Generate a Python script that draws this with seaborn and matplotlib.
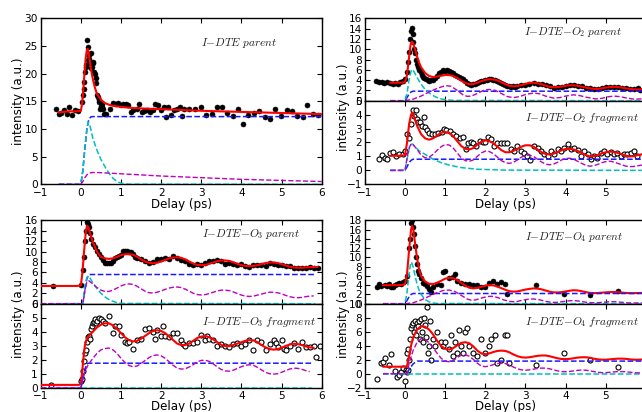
import matplotlib
matplotlib.use("Agg")
import matplotlib.pyplot as plt
import seaborn as sns
import numpy as np

# ---------------- data ----------------
xlim_all = (-1, 6)

# I-DTE parent
dte_pts = [(-0.62,13.55),(-0.55,12.65),(-0.49,12.95),(-0.42,13.4),(-0.35,12.8),(-0.29,13.9),(-0.21,12.5),(-0.14,13.4),(-0.08,13.25),
           (0.02,14.9),(0.05,16.1),(0.07,17.3),(0.08,18.5),(0.1,20.4),(0.12,21.2),(0.13,21.6),(0.16,26.1),(0.17,22.5),(0.19,24.9),(0.2,23.4),
           (0.21,22.6),(0.23,21.9),(0.25,23.7),(0.26,21.0),(0.28,21.3),(0.3,22.2),(0.31,21.9),(0.33,20.4),(0.35,19.9),(0.37,19.2),(0.39,18.3),
           (0.41,16.1),(0.43,15.8),(0.45,15.2),(0.46,14.9),(0.48,13.7),(0.5,14.2),(0.52,14.6),(0.53,13.9),(0.55,13.6),(0.58,12.8),(0.63,12.65),
           (0.73,13.6),(0.79,14.8),(0.88,14.6),(0.93,14.8),(1.0,14.3),(1.06,14.6),(1.13,14.6),(1.18,14.3),(1.25,13.1),(1.31,13.4),(1.39,13.7),
           (1.46,14.6),(1.52,13.1),(1.58,13.25),(1.66,13.4),(1.72,13.1),(1.79,13.4),(1.85,14.6),(1.93,14.3),(1.99,13.4),(2.06,13.9),(2.11,12.2),
           (2.18,14.0),(2.25,12.5),(2.31,13.4),(2.39,13.7),(2.46,14.0),(2.51,12.3),(2.58,13.7),(2.7,13.7),(2.85,13.7),(2.99,13.9),(3.12,12.5),
           (3.26,12.8),(3.39,13.9),(3.51,13.9),(3.65,12.95),(3.78,12.35),(3.91,13.55),(4.05,10.9),(4.17,12.5),(4.32,12.95),(4.45,13.25),
           (4.59,12.1),(4.71,11.9),(4.84,13.7),(4.98,12.35),(5.13,13.4),(5.25,13.3),(5.38,12.35),(5.53,12.2),(5.64,14.3),(5.78,12.8),(5.92,12.5)]
dte_fit = [(-0.55,13.0),(-0.3,13.2),(-0.1,13.2),(0.0,13.3),(0.03,14.5),(0.06,17.0),(0.09,20.0),(0.12,22.8),(0.15,24.3),(0.17,24.5),
           (0.19,24.0),(0.22,22.5),(0.26,20.5),(0.3,19.0),(0.35,17.5),(0.4,16.4),(0.5,15.3),(0.6,14.7),(0.7,14.4),(0.8,14.2),(1.0,14.0),
           (1.3,13.8),(1.6,13.7),(2.0,13.6),(2.5,13.45),(3.0,13.3),(3.5,13.2),(4.0,13.1),(4.5,13.0),(5.0,12.9),(5.5,12.8),(6.0,12.7)]
dte_blue = [(-0.55,0),(0.0,0),(0.05,2.5),(0.1,6.5),(0.15,10.0),(0.2,11.8),(0.25,12.2),(0.3,12.25),(6.0,12.25)]
dte_cyan = [(-0.55,0),(0.0,0),(0.05,2.5),(0.1,6.5),(0.15,10.0),(0.18,11.3),(0.22,10.8),(0.3,8.3),(0.4,6.2),(0.5,4.5),(0.6,3.2),
            (0.7,2.0),(0.8,1.1),(0.9,0.5),(1.0,0.2),(1.2,0.03),(6.0,0)]
dte_mag = [(-0.55,0),(0.0,0),(0.05,0.5),(0.1,1.2),(0.15,1.7),(0.2,2.0),(0.25,2.1),(0.35,2.15),(0.5,2.1),(1.0,1.9),(1.5,1.7),(2.0,1.5),
           (2.5,1.35),(3.0,1.2),(3.5,1.05),(4.0,0.9),(4.5,0.8),(5.0,0.7),(5.5,0.6),(6.0,0.5)]

# I-DTE-O2 parent
o2p_pts = [(-0.72,3.8),(-0.65,3.7),(-0.58,3.7),(-0.52,3.5),(-0.45,3.6),(-0.38,3.4),(-0.3,3.3),(-0.25,3.5),(-0.18,3.2),(-0.12,3.6),
           (-0.05,3.8),(0.0,4.2),(0.04,5.5),(0.07,7.5),(0.1,9.5),(0.13,12.0),(0.15,13.5),(0.17,14.2),(0.19,13.0),(0.21,11.5),(0.23,10.0),
           (0.25,9.2),(0.27,8.0),(0.3,7.2),(0.33,6.5),(0.36,6.0),(0.39,5.5),(0.42,5.0),(0.45,4.6),(0.48,4.4),(0.52,4.2),(0.56,4.0),(0.6,3.9),
           (0.65,4.0),(0.7,4.1),(0.75,4.4),(0.8,4.8),(0.85,5.3),(0.9,5.6),(0.95,5.9),(1.0,5.8),(1.05,5.9),(1.1,5.7),(1.15,5.6),(1.2,5.3),
           (1.25,5.0),(1.3,4.8),(1.35,4.6),(1.4,4.4),(1.45,4.2),(1.5,3.9),(1.55,3.5),(1.6,3.2),(1.65,3.1),(1.7,3.2),(1.75,3.3),(1.8,3.5),
           (1.85,3.6),(1.9,3.8),(1.95,3.9),(2.0,4.1),(2.05,4.0),(2.1,4.3),(2.15,4.2),(2.2,4.1),(2.25,4.0),(2.3,3.8),(2.35,3.6),(2.4,3.4),
           (2.45,3.2),(2.5,3.1),(2.55,2.9),(2.6,2.8),(2.65,2.7),(2.7,2.8),(2.75,2.7),(2.8,2.9),(2.9,3.0),(3.0,3.1),(3.1,3.3),(3.2,3.4),
           (3.3,3.3),(3.4,3.2),(3.5,3.0),(3.6,2.8),(3.7,2.5),(3.8,2.6),(3.9,2.7),(4.0,2.9),(4.1,3.0),(4.2,3.1),(4.3,2.9),(4.4,2.8),(4.5,2.5),
           (4.6,2.4),(4.7,2.2),(4.8,2.3),(4.9,2.4),(5.0,2.6),(5.1,2.7),(5.2,2.6),(5.3,2.6),(5.4,2.5),(5.5,2.4),(5.6,2.3),(5.7,2.2),(5.8,2.4),(5.85,2.1)]
o2p_fit = [(-0.37,3.5),(-0.1,3.5),(0.0,3.6),(0.05,5.0),(0.1,8.5),(0.14,11.0),(0.17,11.5),(0.2,11.2),(0.25,10.0),(0.3,8.6),(0.35,7.4),
           (0.4,6.5),(0.5,5.4),(0.6,4.8),(0.7,4.6),(0.8,4.7),(0.9,4.85),(1.0,5.0),(1.1,5.0),(1.2,4.8),(1.3,4.4),(1.4,3.9),(1.5,3.45),
           (1.6,3.2),(1.7,3.25),(1.8,3.5),(1.9,3.8),(2.0,4.05),(2.1,4.2),(2.2,4.15),(2.3,3.95),(2.4,3.6),(2.5,3.2),(2.6,2.9),(2.7,2.8),
           (2.8,2.85),(2.9,3.05),(3.0,3.25),(3.1,3.45),(3.2,3.5),(3.3,3.4),(3.4,3.2),(3.5,2.95),(3.6,2.7),(3.7,2.6),(3.8,2.65),(3.9,2.75),
           (4.0,2.9),(4.1,3.0),(4.2,3.0),(4.3,2.9),(4.4,2.75),(4.5,2.55),(4.6,2.4),(4.7,2.3),(4.8,2.3),(4.9,2.4),(5.0,2.55),(5.1,2.65),
           (5.2,2.7),(5.3,2.65),(5.4,2.55),(5.5,2.4),(5.6,2.3),(5.7,2.2),(5.8,2.2),(5.9,2.25)]
o2p_blue = [(-0.37,0),(0.0,0),(0.05,0.6),(0.1,1.3),(0.15,1.7),(0.2,1.85),(5.9,1.85)]
o2p_cyan = [(-0.37,0),(0.0,0),(0.05,1.5),(0.1,4.0),(0.15,5.8),(0.18,6.1),(0.22,5.7),(0.3,4.5),(0.4,3.2),(0.5,2.2),(0.6,1.5),(0.7,1.0),
            (0.8,0.6),(0.9,0.35),(1.0,0.2),(1.2,0.05),(5.9,0)]
o2p_mag = [(-0.37,0),(0.0,0),(0.2,0.3),(0.4,0.9),(0.6,1.7),(0.8,2.4),(0.95,2.8),(1.05,2.9),(1.15,2.8),(1.3,2.0),(1.45,1.1),(1.55,0.85),
           (1.65,0.9),(1.8,1.4),(1.95,2.0),(2.1,2.2),(2.25,2.0),(2.4,1.4),(2.55,0.8),(2.7,0.6),(2.85,0.8),(3.0,1.2),(3.2,1.5),(3.35,1.35),
           (3.5,0.9),(3.7,0.5),(3.85,0.6),(4.0,0.9),(4.2,1.15),(4.35,1.0),(4.5,0.7),(4.75,0.35),(4.9,0.45),(5.05,0.75),(5.2,0.9),
           (5.35,0.8),(5.5,0.55),(5.7,0.3),(5.9,0.35)]

# I-DTE-O2 fragment
o2f_pts = [(-0.66,0.82),(-0.58,1.07),(-0.51,0.9),(-0.45,0.82),(-0.37,1.26),(-0.31,1.3),(-0.22,1.0),(-0.14,1.2),(-0.06,1.2),(0.0,1.38),
           (0.06,2.6),(0.1,2.3),(0.14,3.3),(0.21,4.3),(0.27,4.3),(0.23,3.9),(0.29,3.7),(0.33,3.45),(0.37,3.5),(0.41,3.2),(0.47,3.85),
           (0.5,3.1),(0.54,2.9),(0.6,2.7),(0.66,2.6),(0.74,2.6),(0.83,2.67),(0.91,2.76),(0.98,2.96),(1.03,2.9),(1.12,2.84),(1.2,2.6),
           (1.28,2.47),(1.36,2.3),(1.45,2.4),(1.51,1.5),(1.58,1.94),(1.64,2.0),(1.69,1.94),(1.78,1.75),(1.86,2.13),(1.94,2.04),(2.0,2.0),
           (2.07,2.42),(2.15,2.23),(2.21,1.75),(2.3,1.94),(2.38,1.94),(2.46,1.94),(2.55,1.94),(2.63,1.5),(2.71,1.38),(2.79,1.75),
           (2.88,1.38),(2.96,1.26),(3.04,1.0),(3.12,0.73),(3.22,1.75),(3.31,1.62),(3.39,1.38),(3.47,1.2),(3.55,1.0),(3.64,1.38),
           (3.72,1.2),(3.8,1.5),(3.88,1.38),(3.97,1.62),(4.05,1.87),(4.13,1.5),(4.21,1.62),(4.3,1.45),(4.38,1.0),(4.46,1.38),(4.55,1.2),
           (4.63,0.78),(4.71,1.0),(4.79,0.9),(4.88,1.26),(4.96,1.38),(5.04,1.2),(5.12,1.3),(5.2,1.14),(5.29,1.26),(5.37,1.0),(5.45,1.14),
           (5.54,1.2),(5.62,1.26),(5.7,1.38),(5.79,1.0)]
o2f_fit = [(-0.37,1.05),(-0.1,1.05),(0.0,1.1),(0.05,2.0),(0.1,3.3),(0.15,4.0),(0.18,4.15),(0.22,3.9),(0.3,3.2),(0.4,2.6),(0.5,2.3),
           (0.6,2.2),(0.7,2.3),(0.8,2.5),(0.9,2.7),(1.0,2.75),(1.1,2.7),(1.2,2.45),(1.3,2.1),(1.4,1.75),(1.5,1.55),(1.6,1.5),(1.7,1.6),
           (1.8,1.85),(1.9,2.05),(2.0,2.15),(2.1,2.1),(2.2,1.95),(2.3,1.7),(2.4,1.45),(2.5,1.3),(2.6,1.3),(2.7,1.4),(2.8,1.55),(2.9,1.7),
           (3.0,1.8),(3.1,1.8),(3.2,1.7),(3.3,1.5),(3.4,1.3),(3.5,1.18),(3.6,1.14),(3.7,1.2),(3.8,1.3),(3.9,1.45),(4.0,1.53),(4.1,1.55),
           (4.2,1.5),(4.3,1.4),(4.4,1.25),(4.5,1.1),(4.6,1.0),(4.7,1.02),(4.8,1.1),(4.9,1.22),(5.0,1.3),(5.1,1.35),(5.2,1.32),(5.3,1.25),
           (5.4,1.15),(5.5,1.05),(5.6,1.0),(5.7,1.02),(5.8,1.1),(5.9,1.15)]
o2f_blue = [(-0.37,0),(0.0,0),(0.05,0.25),(0.1,0.55),(0.15,0.72),(0.2,0.8),(5.9,0.8)]
o2f_cyan = [(-0.37,0),(0.0,0),(0.05,0.8),(0.1,1.5),(0.15,1.85),(0.18,1.9),(0.25,1.7),(0.35,1.4),(0.5,1.15),(0.7,0.8),(0.9,0.55),
            (1.1,0.38),(1.4,0.2),(1.8,0.08),(2.5,0.02),(5.9,0)]
o2f_mag = [(-0.37,0),(0.0,0),(0.05,0.9),(0.1,1.6),(0.15,1.9),(0.2,1.85),(0.3,1.5),(0.4,1.1),(0.5,0.9),(0.6,0.95),(0.7,1.15),(0.8,1.45),
           (0.9,1.7),(1.0,1.85),(1.1,1.82),(1.2,1.6),(1.3,1.25),(1.4,0.9),(1.5,0.7),(1.6,0.65),(1.7,0.75),(1.8,1.0),(1.9,1.25),(2.0,1.38),
           (2.1,1.35),(2.2,1.2),(2.3,0.95),(2.4,0.7),(2.5,0.55),(2.6,0.5),(2.7,0.58),(2.8,0.75),(2.9,0.95),(3.0,1.08),(3.1,1.1),(3.2,1.0),
           (3.3,0.8),(3.4,0.6),(3.5,0.45),(3.6,0.4),(3.7,0.45),(3.8,0.58),(3.9,0.75),(4.0,0.85),(4.1,0.87),(4.2,0.8),(4.3,0.65),(4.4,0.5),
           (4.5,0.37),(4.6,0.3),(4.7,0.33),(4.8,0.43),(4.9,0.55),(5.0,0.63),(5.1,0.66),(5.2,0.6),(5.3,0.5),(5.4,0.4),(5.5,0.3),(5.6,0.27),
           (5.7,0.28),(5.8,0.33),(5.9,0.38)]

# I-DTE-O3 parent
o3p_pts = [(-0.7,3.4),(0.0,3.5),(0.05,6.5),(0.08,9.0),(0.1,12.0),(0.12,14.0),(0.15,15.7),(0.17,15.3),(0.2,14.8),(0.22,13.5),(0.25,12.5),
           (0.3,11.5),(0.35,10.8),(0.4,10.2),(0.45,9.6),(0.5,9.0),(0.55,8.3),(0.6,7.9),(0.65,7.8),(0.7,7.8),(0.75,7.8),(0.8,8.2),(0.85,8.8),
           (0.9,9.0),(0.95,9.2),(1.0,9.3),(1.05,10.2),(1.1,10.1),(1.15,10.1),(1.2,10.0),(1.25,9.9),(1.3,9.6),(1.35,9.0),(1.4,8.8),(1.5,8.6),
           (1.6,8.2),(1.7,7.9),(1.8,8.0),(1.9,8.5),(2.0,8.5),(2.1,8.7),(2.2,8.6),(2.3,9.1),(2.4,8.8),(2.5,8.3),(2.6,8.2),(2.7,7.6),(2.8,7.4),
           (2.9,7.6),(3.0,7.4),(3.1,7.9),(3.2,8.1),(3.3,8.2),(3.4,8.4),(3.5,8.1),(3.6,7.7),(3.7,7.9),(3.8,7.6),(3.9,7.5),(4.0,7.7),(4.1,7.3),
           (4.2,7.1),(4.3,7.5),(4.4,7.4),(4.5,7.4),(4.6,7.3),(4.7,7.8),(4.8,7.6),(4.9,7.4),(5.0,7.5),(5.1,7.2),(5.2,7.3),(5.3,6.9),(5.4,6.8),
           (5.5,6.9),(5.6,6.8),(5.7,7.1),(5.8,6.9),(5.9,6.8)]
o3p_fit = [(-1.0,3.4),(-0.1,3.4),(0.0,3.5),(0.04,6.0),(0.08,10.0),(0.12,13.5),(0.15,14.9),(0.18,14.8),(0.22,13.8),(0.3,11.8),(0.4,10.0),
           (0.5,9.0),(0.6,8.7),(0.7,8.6),(0.8,8.7),(0.9,9.0),(1.0,9.3),(1.1,9.5),(1.2,9.5),(1.3,9.4),(1.4,9.0),(1.5,8.5),(1.6,8.1),(1.7,7.85),
           (1.8,7.75),(1.9,7.85),(2.0,8.1),(2.1,8.4),(2.2,8.7),(2.3,8.85),(2.4,8.9),(2.5,8.8),(2.6,8.5),(2.7,8.1),(2.8,7.7),(2.9,7.45),
           (3.0,7.4),(3.1,7.45),(3.2,7.65),(3.3,7.9),(3.4,8.15),(3.5,8.3),(3.6,8.3),(3.7,8.2),(3.8,7.95),(3.9,7.65),(4.0,7.4),(4.1,7.25),
           (4.2,7.2),(4.3,7.25),(4.4,7.4),(4.5,7.6),(4.6,7.8),(4.7,7.9),(4.8,7.9),(4.9,7.8),(5.0,7.6),(5.1,7.35),(5.2,7.1),(5.3,6.95),
           (5.4,6.9),(5.5,6.9),(5.6,6.95),(5.7,7.0),(5.8,7.05),(5.9,7.05)]
o3p_blue = [(-1.0,0),(0.05,0),(0.1,2.5),(0.15,4.8),(0.2,5.6),(5.85,5.6)]
o3p_cyan = [(-1.0,0),(0.05,0),(0.1,3.5),(0.15,5.0),(0.18,5.3),(0.22,5.0),(0.3,4.0),(0.4,2.9),(0.5,2.0),(0.6,1.3),(0.7,0.8),(0.8,0.45),
            (0.9,0.2),(1.0,0.05),(5.85,0)]
o3p_mag = [(-1.0,0),(0.05,0),(0.1,2.5),(0.15,4.2),(0.2,4.4),(0.3,3.8),(0.4,3.1),(0.5,2.6),(0.6,2.35),(0.7,2.35),(0.8,2.6),(0.9,3.0),
           (1.0,3.4),(1.1,3.7),(1.2,3.8),(1.3,3.7),(1.4,3.35),(1.5,2.85),(1.6,2.4),(1.7,2.1),(1.8,2.05),(1.9,2.2),(2.0,2.45),(2.1,2.75),
           (2.2,3.0),(2.3,3.15),(2.4,3.2),(2.5,3.1),(2.6,2.8),(2.7,2.4),(2.8,2.0),(2.9,1.75),(3.0,1.67),(3.1,1.75),(3.2,1.95),(3.3,2.2),
           (3.4,2.45),(3.5,2.6),(3.6,2.6),(3.7,2.5),(3.8,2.25),(3.9,1.95),(4.0,1.65),(4.1,1.45),(4.2,1.4),(4.3,1.45),(4.4,1.65),(4.5,1.85),
           (4.6,2.05),(4.7,2.2),(4.8,2.2),(4.9,2.1),(5.0,1.9),(5.1,1.6),(5.2,1.35),(5.3,1.2),(5.4,1.15),(5.5,1.2),(5.6,1.35),(5.7,1.45),
           (5.8,1.5)]

# I-DTE-O3 fragment
o3f_pts = [(-0.75,0.22),(0.0,0.5),(0.02,0.6),(0.05,1.2),(0.08,1.9),(0.1,2.5),(0.12,2.7),(0.15,3.3),(0.18,3.6),(0.2,3.7),(0.22,3.5),
           (0.25,4.2),(0.28,4.4),(0.3,4.6),(0.33,4.7),(0.35,4.9),(0.38,4.6),(0.4,4.8),(0.45,5.0),(0.5,4.9),(0.55,4.8),(0.6,4.6),(0.7,5.1),
           (0.8,3.9),(0.85,4.4),(0.95,4.4),(1.0,3.8),(1.1,3.3),(1.15,3.2),(1.2,3.3),(1.3,2.8),(1.4,3.4),(1.5,3.5),(1.6,4.2),(1.7,4.3),
           (1.8,4.0),(1.85,3.5),(1.9,4.1),(2.0,3.7),(2.05,4.4),(2.1,3.7),(2.2,3.6),(2.3,3.9),(2.4,3.9),(2.5,3.4),(2.55,3.1),(2.6,3.0),
           (2.7,3.2),(2.8,3.2),(2.9,3.3),(3.0,3.8),(3.1,3.4),(3.15,3.7),(3.2,3.5),(3.3,3.4),(3.4,3.0),(3.5,3.1),(3.6,3.0),(3.7,2.9),
           (3.8,3.1),(3.9,3.2),(4.0,3.0),(4.1,3.1),(4.2,3.4),(4.3,2.7),(4.4,3.4),(4.5,3.3),(4.6,2.7),(4.7,3.1),(4.8,3.4),(4.85,3.2),
           (4.9,2.9),(5.0,3.4),(5.05,2.8),(5.1,2.7),(5.2,3.0),(5.3,3.2),(5.4,2.8),(5.5,3.3),(5.6,2.9),(5.7,2.9),(5.8,3.0),(5.85,2.2),(5.95,3.0)]
o3f_fit = [(-1.0,0.2),(-0.05,0.2),(0.0,0.3),(0.03,1.0),(0.06,2.0),(0.1,3.0),(0.15,3.5),(0.2,3.7),(0.3,4.0),(0.4,4.3),(0.5,4.5),(0.6,4.6),
           (0.7,4.6),(0.8,4.45),(0.9,4.2),(1.0,3.9),(1.1,3.6),(1.2,3.4),(1.3,3.3),(1.4,3.35),(1.5,3.5),(1.6,3.7),(1.7,3.9),(1.8,4.05),
           (1.9,4.1),(2.0,4.05),(2.1,3.9),(2.2,3.65),(2.3,3.4),(2.4,3.15),(2.5,3.05),(2.6,3.05),(2.7,3.15),(2.8,3.35),(2.9,3.55),(3.0,3.65),
           (3.1,3.7),(3.2,3.6),(3.3,3.45),(3.4,3.25),(3.5,3.05),(3.6,2.97),(3.7,2.97),(3.8,3.05),(3.9,3.15),(4.0,3.25),(4.1,3.35),(4.2,3.4),
           (4.3,3.38),(4.4,3.25),(4.5,3.05),(4.6,2.88),(4.7,2.76),(4.8,2.72),(4.9,2.75),(5.0,2.85),(5.1,2.98),(5.2,3.08),(5.3,3.14),
           (5.4,3.12),(5.5,3.05),(5.6,2.95),(5.7,2.88),(5.8,2.85)]
o3f_blue = [(-1.0,0),(0.0,0),(0.05,0.6),(0.1,1.3),(0.15,1.7),(0.2,1.75),(5.75,1.75)]
o3f_cyan = [(-1.0,0),(5.75,0)]
o3f_mag = [(-1.0,0),(0.0,0),(0.05,0.6),(0.1,1.2),(0.2,1.7),(0.3,2.1),(0.4,2.45),(0.5,2.7),(0.6,2.8),(0.7,2.83),(0.8,2.7),(0.9,2.45),
           (1.0,2.1),(1.1,1.8),(1.2,1.58),(1.3,1.5),(1.4,1.55),(1.5,1.72),(1.6,1.95),(1.7,2.15),(1.8,2.3),(1.9,2.34),(2.0,2.28),(2.1,2.1),
           (2.2,1.85),(2.3,1.6),(2.4,1.4),(2.5,1.33),(2.6,1.35),(2.7,1.48),(2.8,1.65),(2.9,1.85),(3.0,1.95),(3.1,1.96),(3.2,1.88),(3.3,1.7),
           (3.4,1.48),(3.5,1.3),(3.6,1.2),(3.7,1.18),(3.8,1.25),(3.9,1.38),(4.0,1.5),(4.1,1.6),(4.2,1.64),(4.3,1.6),(4.4,1.45),(4.5,1.27),
           (4.6,1.1),(4.7,1.0),(4.8,0.97),(4.9,1.0),(5.0,1.1),(5.1,1.22),(5.2,1.33),(5.3,1.4),(5.4,1.38),(5.5,1.32),(5.6,1.22),(5.7,1.15)]

# I-DTE-O4 parent
o4p_pts = [(-0.7,3.6),(-0.65,4.2),(-0.6,3.9),(-0.5,4.0),(-0.45,3.8),(-0.4,4.3),(-0.35,3.6),(-0.3,3.7),(-0.25,4.0),(-0.2,4.2),(-0.15,4.5),
           (-0.1,4.3),(-0.05,4.6),(0.0,5.0),(0.05,6.0),(0.1,12.0),(0.12,14.0),(0.15,17.5),(0.17,18.0),(0.2,16.5),(0.22,15.0),(0.25,12.5),
           (0.28,10.0),(0.3,8.5),(0.33,7.0),(0.35,6.5),(0.4,5.5),(0.45,4.5),(0.5,4.3),(0.55,3.8),(0.6,3.2),(0.65,2.5),(0.7,3.5),(0.8,4.3),
           (0.9,4.0),(0.95,6.8),(1.0,7.0),(1.1,5.5),(1.2,5.8),(1.25,6.5),(1.3,5.0),(1.4,4.5),(1.5,4.3),(1.6,4.2),(1.7,4.0),(1.8,4.0),
           (1.9,3.6),(2.0,3.5),(2.1,4.5),(2.2,5.0),(2.3,4.3),(2.4,4.7),(2.5,4.3),(2.55,2.0),(3.25,4.0),(3.95,2.0),(4.6,1.8),(5.3,2.7)]
o4p_fit = [(-0.55,4.0),(-0.1,4.0),(0.0,4.2),(0.05,6.5),(0.1,11.5),(0.15,16.0),(0.18,16.8),(0.21,15.8),(0.25,13.0),(0.3,9.8),(0.35,7.4),
           (0.4,6.0),(0.5,4.8),(0.6,4.3),(0.7,4.25),(0.8,4.5),(0.9,4.95),(1.0,5.4),(1.1,5.6),(1.2,5.5),(1.3,5.1),(1.4,4.5),(1.5,3.9),
           (1.6,3.45),(1.7,3.3),(1.8,3.4),(1.9,3.65),(2.0,3.9),(2.1,4.0),(2.2,3.95),(2.3,3.7),(2.4,3.35),(2.5,3.0),(2.6,2.7),(2.7,2.6),
           (2.8,2.65),(2.9,2.85),(3.0,3.05),(3.1,3.2),(3.2,3.3),(3.3,3.25),(3.4,3.1),(3.5,2.85),(3.6,2.6),(3.7,2.45),(3.8,2.42),(3.9,2.5),
           (4.0,2.65),(4.1,2.8),(4.2,2.9),(4.3,2.85),(4.4,2.7),(4.5,2.5),(4.6,2.35),(4.7,2.28),(4.8,2.3),(4.9,2.38),(5.0,2.45),(5.1,2.5),
           (5.2,2.52),(5.3,2.48),(5.4,2.4),(5.5,2.32),(5.6,2.28),(5.7,2.28),(5.8,2.3),(5.9,2.32)]
o4p_blue = [(-0.55,0),(0.0,0),(0.05,0.7),(0.1,1.5),(0.15,2.0),(0.2,2.2),(5.9,2.2)]
o4p_cyan = [(-0.55,0),(0.0,0),(0.05,2.5),(0.1,6.5),(0.14,8.8),(0.16,9.0),(0.2,8.0),(0.25,6.0),(0.3,4.2),(0.35,2.9),(0.4,2.0),(0.5,0.9),
            (0.6,0.4),(0.7,0.15),(0.8,0.05),(5.9,0)]
o4p_mag = [(-0.55,0),(0.0,0),(0.2,0.2),(0.4,0.8),(0.6,1.6),(0.8,2.4),(0.95,2.85),(1.1,2.95),(1.25,2.6),(1.4,1.8),(1.55,1.0),(1.65,0.75),
           (1.75,0.8),(1.9,1.2),(2.05,1.55),(2.15,1.6),(2.3,1.35),(2.45,0.85),(2.6,0.5),(2.7,0.42),(2.8,0.5),(2.95,0.8),(3.1,1.0),(3.2,1.02),
           (3.35,0.85),(3.5,0.5),(3.65,0.3),(3.75,0.28),(3.9,0.4),(4.05,0.6),(4.2,0.68),(4.35,0.55),(4.5,0.32),(4.65,0.2),(4.8,0.22),
           (4.95,0.32),(5.1,0.42),(5.25,0.42),(5.4,0.3),(5.55,0.18),(5.7,0.15),(5.9,0.2)]

# I-DTE-O4 fragment
o4f_pts = [(-0.7,-0.8),(-0.6,1.5),(-0.55,1.7),(-0.5,2.2),(-0.4,1.3),(-0.35,2.8),(-0.25,0.4),(-0.2,-0.4),(-0.15,-0.2),(-0.1,0.3),
           (-0.05,0.8),(0.0,-1.0),(0.02,0.6),(0.04,0.2),(0.05,3.0),(0.07,0.5),(0.08,3.5),(0.1,2.0),(0.12,5.0),(0.15,6.5),(0.18,7.0),
           (0.2,7.3),(0.22,6.0),(0.25,7.5),(0.28,5.5),(0.3,7.2),(0.32,6.8),(0.35,7.5),(0.38,5.0),(0.4,7.8),(0.42,6.0),(0.45,4.5),(0.48,8.0),
           (0.5,7.0),(0.52,5.3),(0.55,9.5),(0.58,3.0),(0.6,4.0),(0.62,7.5),(0.65,2.0),(0.7,5.0),(0.75,4.0),(0.8,6.0),(0.9,4.5),(0.95,4.0),
           (1.0,4.5),(1.1,3.5),(1.15,5.5),(1.2,2.5),(1.25,4.5),(1.3,3.0),(1.35,6.2),(1.4,4.0),(1.45,3.0),(1.5,6.0),(1.55,6.5),(1.6,4.0),
           (1.7,3.0),(1.8,2.5),(1.9,5.0),(2.0,3.0),(2.1,4.0),(2.15,5.0),(2.25,5.5),(2.3,1.5),(2.4,2.0),(2.5,5.5),(2.55,5.5),(2.6,1.5),
           (3.25,1.3),(3.95,3.0),(4.6,2.0),(5.3,1.0)]
o4f_fit = [(-0.55,1.0),(0.0,1.0),(0.05,1.1),(0.1,2.5),(0.15,4.0),(0.2,5.2),(0.3,6.3),(0.4,6.8),(0.5,6.7),(0.6,6.3),(0.7,5.6),(0.8,4.7),
           (0.9,3.95),(1.0,3.55),(1.1,3.45),(1.2,3.65),(1.3,4.05),(1.4,4.4),(1.5,4.5),(1.6,4.35),(1.7,3.9),(1.8,3.3),(1.9,2.9),(2.0,2.8),
           (2.1,2.9),(2.2,3.1),(2.3,3.25),(2.4,3.3),(2.5,3.25),(2.6,3.05),(2.7,2.75),(2.8,2.5),(2.9,2.35),(3.0,2.3),(3.1,2.35),(3.2,2.45),
           (3.3,2.55),(3.4,2.6),(3.5,2.6),(3.6,2.5),(3.7,2.35),(3.8,2.2),(3.9,2.1),(4.0,2.08),(4.1,2.12),(4.2,2.2),(4.3,2.3),(4.4,2.35),
           (4.5,2.35),(4.6,2.28),(4.7,2.15),(4.8,2.05),(4.9,2.0),(5.0,2.0),(5.1,2.05),(5.2,2.1),(5.3,2.15),(5.4,2.15),(5.5,2.12),(5.6,2.05),
           (5.7,2.0),(5.8,2.0),(5.9,2.02)]
o4f_blue = [(-0.55,0),(0.05,0),(0.1,0.6),(0.2,1.4),(0.3,1.8),(5.9,1.8)]
o4f_cyan = [(-0.55,0),(5.9,0)]
o4f_mag = [(-0.55,0),(0.05,0),(0.1,1.5),(0.2,3.3),(0.3,4.5),(0.4,5.0),(0.5,4.9),(0.6,4.4),(0.7,3.7),(0.8,2.9),(0.9,2.2),(1.0,1.8),
           (1.1,1.7),(1.2,1.9),(1.3,2.3),(1.4,2.65),(1.5,2.7),(1.6,2.5),(1.7,2.05),(1.8,1.5),(1.9,1.1),(2.0,1.0),(2.1,1.1),(2.2,1.3),
           (2.3,1.45),(2.4,1.5),(2.5,1.45),(2.6,1.25),(2.7,0.95),(2.8,0.7),(2.9,0.55),(3.0,0.5),(3.1,0.55),(3.2,0.65),(3.3,0.75),(3.4,0.8),
           (3.5,0.8),(3.6,0.7),(3.7,0.55),(3.8,0.4),(3.9,0.3),(4.0,0.28),(4.1,0.32),(4.2,0.4),(4.3,0.48),(4.4,0.52),(4.5,0.5),(4.6,0.42),
           (4.7,0.3),(4.8,0.2),(4.9,0.15),(5.0,0.15),(5.1,0.2),(5.2,0.25),(5.3,0.3),(5.4,0.3),(5.5,0.28),(5.6,0.22),(5.7,0.15),(5.8,0.12),
           (5.9,0.12)]

labels = {
    "dte": r"$I{-}DTE\ parent$",
    "o2p": r"$I{-}DTE{-}O_2\ parent$",
    "o2f": r"$I{-}DTE{-}O_2\ fragment$",
    "o3p": r"$I{-}DTE{-}O_3\ parent$",
    "o3f": r"$I{-}DTE{-}O_3\ fragment$",
    "o4p": r"$I{-}DTE{-}O_4\ parent$",
    "o4f": r"$I{-}DTE{-}O_4\ fragment$",
}
left_xticks = list(range(-1, 7))
right_xticks = list(range(-1, 6))

# ---------------- style ----------------
sns.set_theme(style="ticks")
plt.rcParams.update({
    "font.family": ["DejaVu Sans"],
    "mathtext.fontset": "cm",
    "xtick.direction": "in", "ytick.direction": "in",
    "xtick.top": True, "ytick.right": True,
    "xtick.major.size": 3.5, "ytick.major.size": 3.5,
    "xtick.major.width": 0.8, "ytick.major.width": 0.8,
    "xtick.labelsize": 7.6, "ytick.labelsize": 7.6,
    "axes.labelsize": 8.6,
    "axes.edgecolor": "black", "axes.linewidth": 1.0,
    "xtick.color": "black", "ytick.color": "black",
    "axes.labelcolor": "black", "text.color": "black",
    "xtick.major.pad": 2.5, "ytick.major.pad": 2.0,
})

W, H = 642, 412
fig = plt.figure(figsize=(W / 100, H / 100), dpi=100)


def add_ax(left, top, bottom, width=281):
    return fig.add_axes([left / W, 1 - bottom / H, width / W, (bottom - top) / H])


def xy(pairs):
    return [p[0] for p in pairs], [p[1] for p in pairs]


def draw(ax, pts, fit, blue, cyan, mag, filled, label, tx, ty):
    px, py = xy(pts)
    if filled:
        sns.scatterplot(x=px, y=py, ax=ax, color="black", edgecolor="black", s=13, linewidth=0.4, zorder=2)
    else:
        sns.scatterplot(x=px, y=py, ax=ax, color="white", edgecolor="black", s=13, linewidth=0.8, zorder=2)
    for data, col, lw, ls, z in [(fit, "#ff0000", 1.5, "-", 3), (blue, "#1a1aff", 1.1, "--", 4),
                                 (cyan, "#00bfbf", 1.1, "--", 4), (mag, "#bf00bf", 1.0, "--", 4)]:
        lx, ly = xy(data)
        sns.lineplot(x=lx, y=ly, ax=ax, color=col, lw=lw, linestyle=ls, estimator=None, sort=False, zorder=z)
    ax.set_xlim(*xlim_all)
    ax.text(tx, ty, label, transform=ax.transAxes, ha="left", va="center", fontsize=8.2, color="#222222")


# panel 1
ax1 = add_ax(40.7, 18.5, 184.3)
draw(ax1, dte_pts, dte_fit, dte_blue, dte_cyan, dte_mag, True, labels["dte"], 0.57, 0.85)
ax1.set_ylim(0, 30)
ax1.set_yticks(np.arange(0, 31, 5))
ax1.set_xticks(left_xticks)
ax1.set_xlabel("Delay (ps)", labelpad=0.5)

# O2
ax2a = add_ax(364.9, 18.5, 100.7)
ax2b = add_ax(364.9, 100.7, 184.3)
draw(ax2a, o2p_pts, o2p_fit, o2p_blue, o2p_cyan, o2p_mag, True, labels["o2p"], 0.566, 0.83)
draw(ax2b, o2f_pts, o2f_fit, o2f_blue, o2f_cyan, o2f_mag, False, labels["o2f"], 0.568, 0.79)
ax2a.set_ylim(0, 16); ax2a.set_yticks(np.arange(0, 17, 2))
ax2b.set_ylim(-1, 5); ax2b.set_yticks(np.arange(-1, 6, 1))
for a in (ax2a, ax2b):
    a.set_xticks(right_xticks)
    a.tick_params(axis="y", right=False)
ax2a.set_xticklabels([])
ax2b.set_xlabel("Delay (ps)", labelpad=0.5)

# O3
ax3a = add_ax(40.7, 220.3, 303.7)
ax3b = add_ax(40.7, 303.7, 387.7)
draw(ax3a, o3p_pts, o3p_fit, o3p_blue, o3p_cyan, o3p_mag, True, labels["o3p"], 0.573, 0.84)
draw(ax3b, o3f_pts, o3f_fit, o3f_blue, o3f_cyan, o3f_mag, False, labels["o3f"], 0.573, 0.78)
ax3a.set_ylim(0, 16); ax3a.set_yticks(np.arange(0, 17, 2))
ax3b.set_ylim(0, 6); ax3b.set_yticks(np.arange(0, 7, 1))
for a in (ax3a, ax3b):
    a.set_xticks(left_xticks)
ax3a.set_xticklabels([])
ax3b.set_xlabel("Delay (ps)", labelpad=-0.5)

# O4
ax4a = add_ax(364.9, 220.3, 303.7)
ax4b = add_ax(364.9, 303.7, 387.7)
draw(ax4a, o4p_pts, o4p_fit, o4p_blue, o4p_cyan, o4p_mag, True, labels["o4p"], 0.568, 0.80)
draw(ax4b, o4f_pts, o4f_fit, o4f_blue, o4f_cyan, o4f_mag, False, labels["o4f"], 0.568, 0.78)
ax4a.set_ylim(0, 18); ax4a.set_yticks(np.arange(0, 19, 2))
ax4b.set_ylim(-2, 10); ax4b.set_yticks(np.arange(-2, 11, 2))
for a in (ax4a, ax4b):
    a.set_xticks(right_xticks)
    a.tick_params(axis="y", right=False)
ax4a.set_xticklabels([])
ax4b.set_xlabel("Delay (ps)", labelpad=-0.5)

for a in (ax1, ax2a, ax2b, ax3a, ax3b, ax4a, ax4b):
    a.set_ylabel("")
    for s in a.spines.values():
        s.set_visible(True)
        s.set_color("black")
        s.set_linewidth(1.0)

# shared y labels
for (cx, cy) in [(19, 101), (19, 314), (344, 107), (344, 314)]:
    fig.text(cx / W, 1 - cy / H, "intensity (a.u.)", rotation=90, ha="center", va="center", fontsize=8.6)

fig.savefig("out.png", dpi=100)
